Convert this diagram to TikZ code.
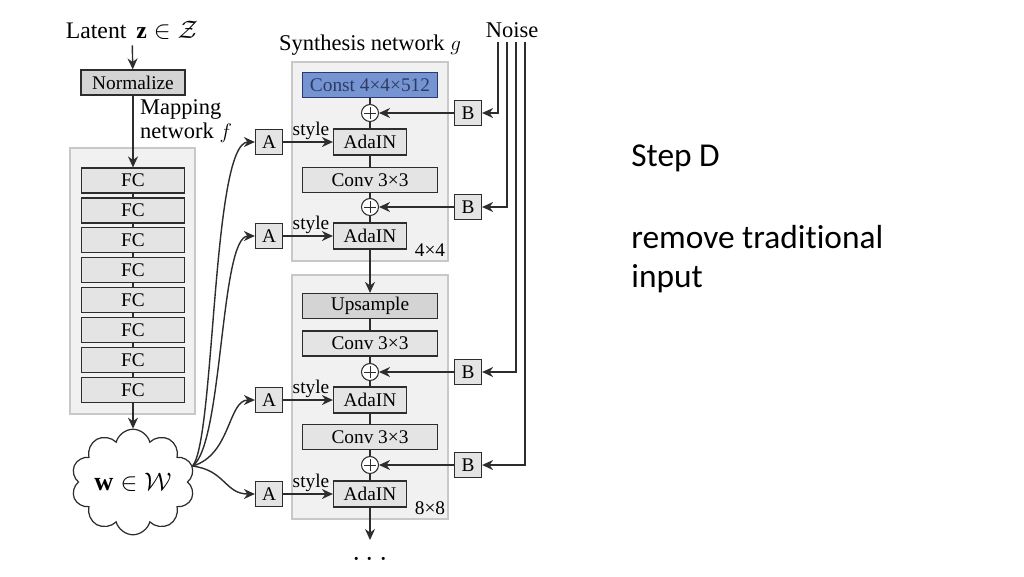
\documentclass[tikz,border=0pt]{standalone}
\usepackage{fontspec}
\setmainfont{Liberation Serif}
\newfontfamily\slidefont[Ligatures=NoCommon]{Carlito}
\usetikzlibrary{arrows.meta,shapes.symbols}
\definecolor{boxgray}{RGB}{228,228,228}
\definecolor{normgray}{RGB}{212,212,212}
\definecolor{groupgray}{RGB}{241,241,241}
\definecolor{groupline}{RGB}{200,200,200}
\definecolor{constblue}{RGB}{118,148,210}
\definecolor{constline}{RGB}{40,60,110}
\definecolor{consttext}{RGB}{45,60,100}
\definecolor{linegray}{RGB}{45,45,45}

\begin{document}
\begin{tikzpicture}[x=0.02cm, y=-0.02cm,
  every node/.style={font=\fontsize{11}{13}\selectfont},
  box/.style={draw=linegray, fill=boxgray, line width=0.7pt, inner sep=0, minimum height=0.5cm},
  fcbox/.style={box, minimum width=2.06cm},
  widebox/.style={box, minimum width=2.7cm},
  adabox/.style={box, minimum width=1.46cm, minimum height=0.52cm},
  smallbox/.style={box, minimum width=0.54cm},
  plus/.style={circle, draw=linegray, fill=white, line width=0.6pt, minimum size=0.34cm, inner sep=0,
    path picture={\draw[line width=0.5pt]
      ([xshift=-0.12cm]path picture bounding box.center) -- ([xshift=0.12cm]path picture bounding box.center)
      ([yshift=-0.12cm]path picture bounding box.center) -- ([yshift=0.12cm]path picture bounding box.center);}},
  group/.style={fill=groupgray, draw=groupline, line width=0.6pt},
  title/.style={font=\fontsize{12.8}{14}\selectfont},
  slide/.style={anchor=base west, inner sep=0, font=\slidefont\fontsize{19}{23}\selectfont},
  link/.style={draw=linegray, line width=0.8pt},
  arr/.style={link, -{Stealth[length=2.2mm, width=2mm]}}
]
\useasboundingbox (0,0) rectangle (1024,576);

% Mapping network
\node[title, font=\fontsize{13.5}{15}\selectfont] (lat) at (132,30) {Latent\, $\mathbf{z}\in\mathcal{Z}$};
\node[box, fill=normgray, minimum width=2.08cm] (norm) at (133,82.5) {Normalize};
\draw[group] (70,148) rectangle (195,414);
\foreach \i in {1,...,8}
  \node[fcbox] (fc\i) at (133,{150.6+29.9*\i}) {FC};
\foreach \i/\j in {1/2,2/3,3/4,4/5,5/6,6/7,7/8}
  \draw[link] (fc\i) -- (fc\j);
\draw[arr] (lat) -- (norm);
\draw[arr] (norm) -- (fc1);
\node[title, anchor=west, align=left] (maplabel) at (134,121) {Mapping\\network $f$};
\node[cloud, draw=linegray, fill=white, cloud puffs=10, aspect=1.3, minimum width=2.4cm,
  minimum height=1.9cm, inner sep=0, line width=0.7pt, font=\fontsize{15}{17}\selectfont]
  (w) at (133,482) {$\mathbf{w}\in\mathcal{W}$};
\draw[arr] (fc8) -- (w);

% Synthesis network
\node[title] (synlabel) at (370,45) {Synthesis network $g$};
\draw[group] (292,62) rectangle (448,261);
\draw[group] (292,275) rectangle (448,519);

\node[widebox, fill=constblue, draw=constline, text=consttext] (const) at (370,85) {Const 4×4×512};
\node[plus] (p1) at (370,113) {};
\node[adabox] (ada1) at (370,142) {AdaIN};
\node[widebox] (conv1) at (370,180) {Conv 3×3};
\node[plus] (p2) at (370,207) {};
\node[adabox] (ada2) at (370,236) {AdaIN};
\node (res1) at (430,250) {4×4};

\node[widebox, fill=normgray] (up) at (370,306) {Upsample};
\node[widebox] (conv2) at (370,343.5) {Conv 3×3};
\node[plus] (p3) at (370,372) {};
\node[adabox] (ada3) at (370,400) {AdaIN};
\node[widebox] (conv3) at (370,437) {Conv 3×3};
\node[plus] (p4) at (370,465) {};
\node[adabox] (ada4) at (370,494) {AdaIN};
\node (res2) at (430,508) {8×8};
\coordinate (out) at (370,540);
\node[font=\fontsize{19}{21}\selectfont] (dots) at (370,560) {$\cdots$};

\draw[link] (const) -- (p1) -- (ada1) -- (conv1) -- (p2) -- (ada2);
\draw[arr] (ada2) -- (up);
\draw[link] (up) -- (conv2) -- (p3) -- (ada3) -- (conv3) -- (p4) -- (ada4);
\draw[arr] (ada4) -- (out);

% Noise inputs
\node[title] (noise) at (512,30) {Noise};
\foreach \i/\y/\x in {1/113/498,2/207/507,3/372/516,4/465/525} {
  \node[smallbox] (b\i) at (468,\y) {B};
  \draw[arr] (b\i) -- (p\i);
  \coordinate (n\i) at (\x,42);
  \draw[arr] (n\i) |- (b\i);
}

% Style inputs
\foreach \i/\y in {1/142,2/236,3/400,4/494} {
  \node[smallbox] (a\i) at (269,\y) {A};
  \draw[arr] (a\i) -- node[above, inner sep=1pt, pos=0.56] {style} (ada\i);
}
\draw[arr] (w.15) .. controls (215,440) and (212,142) .. (a1.west);
\draw[arr] (w.15) .. controls (223,445) and (220,236) .. (a2.west);
\draw[arr] (w.15) .. controls (231,455) and (228,400) .. (a3.west);
\draw[arr] (w.15) .. controls (225,470) and (225,494) .. (a4.west);

% Slide text
\node[slide] (step) at (631,166) {Step D};
\node[slide] (rem1) at (631,248) {remove traditional};
\node[slide] (rem2) at (631,287) {input};

\end{tikzpicture}
\end{document}
